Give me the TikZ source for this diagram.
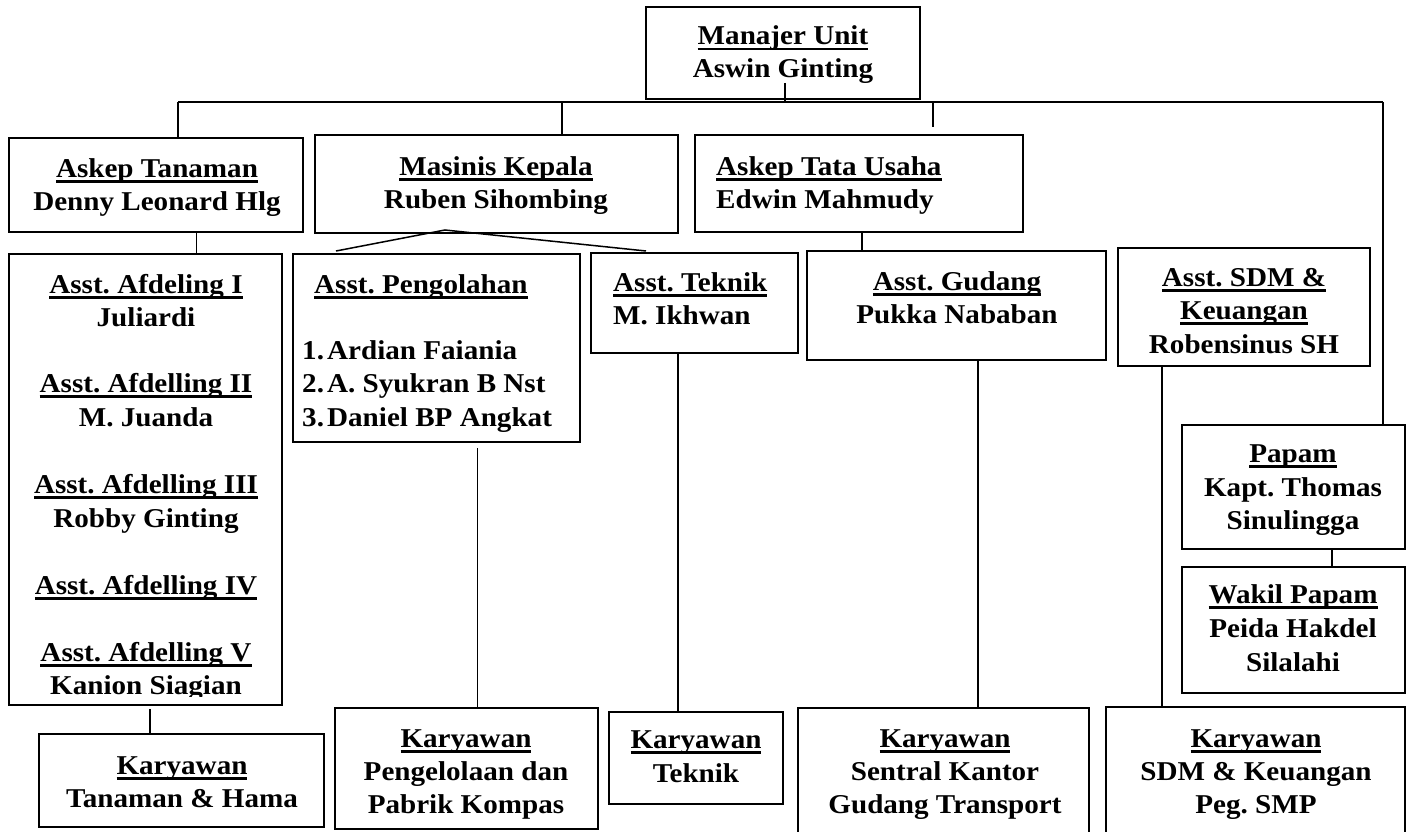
\documentclass[tikz,border=0pt]{standalone}
\usepackage{fontspec}
\setmainfont{Liberation Serif}[FakeStretch=1.07]
\usetikzlibrary{fit}
\newsavebox\ulbox
\newcommand\uln[1]{\sbox\ulbox{#1}\rlap{\rule[-5.5pt]{\wd\ulbox}{2.7pt}}\usebox\ulbox}
\newcommand\numl[2]{\makebox[25pt][l]{#1}#2}
\frenchspacing
\begin{document}
\begin{tikzpicture}[x=1pt,y=-1pt,
  box/.style={draw, line width=2pt, inner sep=0pt},
  conn/.style={line width=1.5pt},
  txt/.style={font=\fontsize{27.2}{33.4}\selectfont\bfseries\frenchspacing, inner sep=0pt, anchor=base},
  txtl/.style={txt, anchor=base west}]
\useasboundingbox (0,0) rectangle (1411,832);
\clip (0,0) rectangle (1411,832);
% boxes
\node[box, fit={(646,7) (920,99)}] (mgr) {};
\node[box, fit={(9,138) (303,232)}] (asktan) {};
\node[box, fit={(315,135) (678,233)}] (masinis) {};
\node[box, fit={(695,135) (1023,232)}] (asktu) {};
\node[box, fit={(9,254) (282,705)}] (afd) {};
\node[box, fit={(293,254) (580,442)}] (pengol) {};
\node[box, fit={(591,253) (798,353)}] (teknik) {};
\node[box, fit={(807,251) (1106,360)}] (gudang) {};
\node[box, fit={(1118,248) (1370,366)}] (sdm) {};
\node[box, fit={(1182,425) (1405,549)}] (papam) {};
\node[box, fit={(1182,567) (1405,693)}] (wakil) {};
\node[box, fit={(39,734) (324,827)}] (kytan) {};
\node[box, fit={(335,708) (598,829)}] (kypeng) {};
\node[box, fit={(609,712) (783,804)}] (kytek) {};
\node[box, fit={(798,708) (1089,850)}] (kysen) {};
\node[box, fit={(1106,707) (1405,850)}] (kysdm) {};
% connector points
\coordinate (mgrT) at (785,83);
\coordinate (hL) at (178,102);
\coordinate (hR) at (1383,102);
\coordinate (tMas) at (562,102);
\coordinate (tTU) at (933,102);
\coordinate (tTUe) at (933,127);
\coordinate (cA) at (196.5,0);
\coordinate (mS) at (445,230);
\coordinate (mP) at (336,251);
\coordinate (mT) at (646,251);
\coordinate (cG) at (862,0);
\coordinate (pS) at (477.5,448);
\coordinate (cT) at (678,0);
\coordinate (cS) at (978,0);
\coordinate (cD) at (1162,0);
\coordinate (cW) at (1332,0);
\coordinate (aS) at (150,709);
% connectors
\draw[conn] (mgrT) -- (mgrT |- hL);
\draw[conn] (hL) -- (hR);
\draw[conn] (hL) -- (hL |- asktan.north);
\draw[conn] (tMas) -- (tMas |- masinis.north);
\draw[conn] (tTU) -- (tTUe);
\draw[conn] (hR) -- (hR |- papam.north);
\draw[conn] (asktan.south -| cA) -- (afd.north -| cA);
\draw[conn] (mP) -- (mS) -- (mT);
\draw[conn] (asktu.south -| cG) -- (gudang.north -| cG);
\draw[conn] (pS) -- (pS |- kypeng.north);
\draw[conn] (teknik.south -| cT) -- (kytek.north -| cT);
\draw[conn] (gudang.south -| cS) -- (kysen.north -| cS);
\draw[conn] (sdm.south -| cD) -- (kysdm.north -| cD);
\draw[conn] (papam.south -| cW) -- (wakil.north -| cW);
\draw[conn] (aS) -- (aS |- kytan.north);
% texts
\node[txt] (t1a) at (783,45) {\uln{Manajer Unit}};
\node[txt] (t1b) at (783,78) {Aswin Ginting};
\node[txt] (t2a) at (157,177) {\uln{Askep Tanaman}};
\node[txt] (t2b) at (157,210) {Denny Leonard Hlg};
\node[txt] (t3a) at (496,175.5) {\uln{Masinis Kepala}};
\node[txt] (t3b) at (496,208) {Ruben Sihombing};
\node[txtl] (t4a) at (716,175.5) {\uln{Askep Tata Usaha}};
\node[txtl] (t4b) at (716,208) {Edwin Mahmudy};
\begin{scope}
\clip (9,254) rectangle (282,696);
\node[txt] (t5a) at (146,293) {\uln{Asst. Afdeling I}};
\node[txt] (t5b) at (146,326) {Juliardi};
\node[txt] (t5c) at (146,392.5) {\uln{Asst. Afdelling II}};
\node[txt] (t5d) at (146,426) {M. Juanda};
\node[txt] (t5e) at (146,493.5) {\uln{Asst. Afdelling III}};
\node[txt] (t5f) at (146,527) {Robby Ginting};
\node[txt] (t5g) at (146,594) {\uln{Asst. Afdelling IV}};
\node[txt] (t5h) at (146,661) {\uln{Asst. Afdelling V}};
\node[txt] (t5i) at (146,694.5) {Kanion Siagian};
\end{scope}
\node[txtl] (t6a) at (314,293) {\uln{Asst. Pengolahan}};
\node[txtl] (t6b) at (302,359) {\numl{1.}{Ardian Faiania}};
\node[txtl] (t6c) at (302,392.5) {\numl{2.}{A. Syukran B Nst}};
\node[txtl] (t6d) at (302,426) {\numl{3.}{Daniel BP Angkat}};
\node[txtl] (t7a) at (613,291) {\uln{Asst. Teknik}};
\node[txtl] (t7b) at (613,324) {M. Ikhwan};
\node[txt] (t8a) at (957,290) {\uln{Asst. Gudang}};
\node[txt] (t8b) at (957,323) {Pukka Nababan};
\node[txt] (t9a) at (1244,286.5) {\uln{Asst. SDM \&}};
\node[txt] (t9b) at (1244,319.5) {\uln{Keuangan}};
\node[txt] (t9c) at (1244,353) {Robensinus SH};
\node[txt] (t10a) at (1293,462) {\uln{Papam}};
\node[txt] (t10b) at (1293,496) {Kapt. Thomas};
\node[txt] (t10c) at (1293,529) {Sinulingga};
\node[txt] (t11a) at (1293,603) {\uln{Wakil Papam}};
\node[txt] (t11b) at (1293,637) {Peida Hakdel};
\node[txt] (t11c) at (1293,671) {Silalahi};
\node[txt] (t12a) at (182,774) {\uln{Karyawan}};
\node[txt] (t12b) at (182,807) {Tanaman \& Hama};
\node[txt] (t13a) at (466,747) {\uln{Karyawan}};
\node[txt] (t13b) at (466,780) {Pengelolaan dan};
\node[txt] (t13c) at (466,813) {Pabrik Kompas};
\node[txt] (t14a) at (696,748) {\uln{Karyawan}};
\node[txt] (t14b) at (696,782) {Teknik};
\node[txt] (t15a) at (945,747) {\uln{Karyawan}};
\node[txt] (t15b) at (945,780) {Sentral Kantor};
\node[txt] (t15c) at (945,813) {Gudang Transport};
\node[txt] (t16a) at (1256,747) {\uln{Karyawan}};
\node[txt] (t16b) at (1256,780) {SDM \& Keuangan};
\node[txt] (t16c) at (1256,813) {Peg. SMP};
\end{tikzpicture}
\end{document}
